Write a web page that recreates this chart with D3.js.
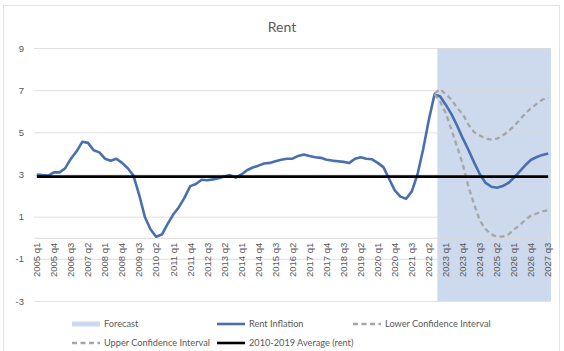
<!DOCTYPE html>
<html>
<head>
<meta charset="utf-8">
<script src="https://cdn.jsdelivr.net/npm/d3@7"></script>
<style>
  body { margin: 0; background: #fff; }
  svg { font-family: Lato, "Open Sans", sans-serif; }
  .axis text { fill: #595959; font-size: 9.5px; }
  .legend text { fill: #595959; font-size: 9.2px; }
</style>
</head>
<body>
<svg width="564" height="351"></svg>
<script>
const quarters = [
  "2005 q1","2005 q2","2005 q3","2005 q4","2006 q1","2006 q2","2006 q3","2006 q4",
  "2007 q1","2007 q2","2007 q3","2007 q4","2008 q1","2008 q2","2008 q3","2008 q4",
  "2009 q1","2009 q2","2009 q3","2009 q4","2010 q1","2010 q2","2010 q3","2010 q4",
  "2011 q1","2011 q2","2011 q3","2011 q4","2012 q1","2012 q2","2012 q3","2012 q4",
  "2013 q1","2013 q2","2013 q3","2013 q4","2014 q1","2014 q2","2014 q3","2014 q4",
  "2015 q1","2015 q2","2015 q3","2015 q4","2016 q1","2016 q2","2016 q3","2016 q4",
  "2017 q1","2017 q2","2017 q3","2017 q4","2018 q1","2018 q2","2018 q3","2018 q4",
  "2019 q1","2019 q2","2019 q3","2019 q4","2020 q1","2020 q2","2020 q3","2020 q4",
  "2021 q1","2021 q2","2021 q3","2021 q4","2022 q1","2022 q2","2022 q3","2022 q4",
  "2023 q1","2023 q2","2023 q3","2023 q4","2024 q1","2024 q2","2024 q3","2024 q4",
  "2025 q1","2025 q2","2025 q3","2025 q4","2026 q1","2026 q2","2026 q3","2026 q4",
  "2027 q1","2027 q2","2027 q3"
];

const rentInflation = [
  3.0, 2.97, 2.95, 3.1, 3.1, 3.3, 3.75, 4.1, 4.55, 4.5,
  4.15, 4.05, 3.75, 3.65, 3.75, 3.55, 3.3, 2.95, 2.05, 1.0,
  0.4, 0.05, 0.15, 0.65, 1.1, 1.45, 1.9, 2.45, 2.55, 2.75,
  2.73, 2.77, 2.82, 2.9, 2.97, 2.85, 3.0, 3.2, 3.33, 3.42,
  3.52, 3.55, 3.63, 3.7, 3.75, 3.75, 3.88, 3.95, 3.88, 3.82,
  3.79, 3.7, 3.66, 3.63, 3.6, 3.55, 3.75, 3.82, 3.75, 3.72,
  3.55, 3.35, 2.8, 2.25, 1.95, 1.85, 2.2, 3.0, 4.2, 5.6,
  6.8, 6.7, 6.3, 5.85, 5.3, 4.7, 4.15, 3.55, 3.0, 2.6,
  2.42, 2.37, 2.45, 2.6, 2.85, 3.15, 3.45, 3.7, 3.83, 3.93,
  4.0
];

// confidence intervals start at 2022 q3
const ciStart = "2022 q3";
const lowerCI = [6.8, 6.45, 5.9, 5.1, 4.3, 3.45, 2.4, 1.55, 0.8, 0.4, 0.16,
                 0.05, 0.05, 0.15, 0.4, 0.6, 0.85, 1.05, 1.15, 1.25, 1.3];
const upperCI = [6.85, 7.05, 6.8, 6.55, 6.15, 5.85, 5.35, 5.0, 4.85, 4.7, 4.66,
                 4.7, 4.85, 5.05, 5.3, 5.6, 5.9, 6.15, 6.35, 6.55, 6.63];

const averageRent = 2.9;   // 2010-2019 average
const forecastStart = "2022 q4";

const yTicks = [-3, -1, 1, 3, 5, 7, 9];
const xTickLabels = quarters.filter((q, i) => i % 3 === 0);

const legendNames = ["Forecast", "Rent Inflation", "Lower Confidence Interval",
                     "Upper Confidence Interval", "2010-2019 Average (rent)"];

const colors = { forecast: "#cdd9ed", rent: "#4a6fae", ci: "#a6a6a6", avg: "#000", grid: "#d9d9d9" };

const svg = d3.select("svg");

svg.append("rect")
  .attr("x", 3.5).attr("y", 5.5)
  .attr("width", 556).attr("height", 346)
  .attr("fill", "#fff")
  .attr("stroke", "#e3e3e3");

const x = d3.scaleBand()
  .domain(quarters)
  .range([34, 551])
  .padding(0);

const y = d3.scaleLinear()
  .domain([-3, 9])
  .range([301, 48]);

const cx = q => x(q) + x.bandwidth() / 2;

// forecast shading
svg.append("rect")
  .attr("x", x(forecastStart))
  .attr("y", y(9))
  .attr("width", x(quarters[quarters.length - 1]) + x.bandwidth() - x(forecastStart))
  .attr("height", y(-3) - y(9))
  .attr("fill", colors.forecast);

// y axis + gridlines
const yAxis = svg.append("g")
  .attr("class", "axis")
  .attr("transform", `translate(${x.range()[0]},0)`)
  .call(d3.axisLeft(y)
    .tickValues(yTicks)
    .tickFormat(d => d)
    .tickSize(-(x.range()[1] - x.range()[0]))
    .tickPadding(10));
yAxis.select(".domain").remove();
yAxis.selectAll(".tick line").attr("stroke", colors.grid).attr("stroke-opacity", 0.8);
yAxis.selectAll("text").attr("font-size", 9.5);

// x axis at zero
const xAxis = svg.append("g")
  .attr("class", "axis")
  .attr("transform", `translate(0,${y(0)})`)
  .call(d3.axisBottom(x)
    .tickValues(xTickLabels)
    .tickSize(0)
    .tickSizeOuter(0));
xAxis.select(".domain").attr("stroke", colors.grid);
xAxis.selectAll("text")
  .attr("transform", "rotate(-90)")
  .attr("text-anchor", "end")
  .attr("x", -5)
  .attr("y", 0)
  .attr("dy", "0.35em")
  .attr("font-size", 9.5);

const line = d3.line()
  .x(d => cx(d.q))
  .y(d => y(d.v));

const rentData = quarters.map((q, i) => ({ q: q, v: rentInflation[i] }));
const ci0 = quarters.indexOf(ciStart);
const lowerData = lowerCI.map((v, i) => ({ q: quarters[ci0 + i], v: v }));
const upperData = upperCI.map((v, i) => ({ q: quarters[ci0 + i], v: v }));
const avgData = quarters.map(q => ({ q: q, v: averageRent }));

svg.append("path")
  .datum(rentData)
  .attr("fill", "none")
  .attr("stroke", colors.rent)
  .attr("stroke-width", 2.6)
  .attr("stroke-linejoin", "round")
  .attr("d", line);

[lowerData, upperData].forEach(data => {
  svg.append("path")
    .datum(data)
    .attr("fill", "none")
    .attr("stroke", colors.ci)
    .attr("stroke-width", 2.3)
    .attr("stroke-dasharray", "5,3.5")
    .attr("d", line);
});

svg.append("path")
  .datum(avgData)
  .attr("fill", "none")
  .attr("stroke", colors.avg)
  .attr("stroke-width", 2.6)
  .attr("d", line);

// title
svg.append("text")
  .attr("x", 282)
  .attr("y", 32)
  .attr("text-anchor", "middle")
  .attr("fill", "#595959")
  .attr("font-size", 14)
  .text("Rent");

// legend
const legendPos = [[72, 324], [217, 324], [353, 324], [72, 343], [217, 343]];
const legend = svg.append("g").attr("class", "legend");
legendNames.forEach((name, i) => {
  const [lx, ly] = legendPos[i];
  const g = legend.append("g").attr("transform", `translate(${lx},${ly})`);
  if (i === 0) {
    g.append("rect").attr("x", 0).attr("y", -2.5).attr("width", 28).attr("height", 5)
      .attr("fill", colors.forecast);
  } else {
    const st = i === 1 ? colors.rent : i === 4 ? colors.avg : colors.ci;
    g.append("line").attr("x1", 0).attr("x2", 28).attr("y1", 0).attr("y2", 0)
      .attr("stroke", st)
      .attr("stroke-width", i === 1 || i === 4 ? 2.6 : 2.3)
      .attr("stroke-dasharray", i === 2 || i === 3 ? "5,3.5" : null);
  }
  g.append("text")
    .attr("x", 32)
    .attr("y", 0)
    .attr("dy", "0.35em")
    .text(name);
});
</script>
</body>
</html>
